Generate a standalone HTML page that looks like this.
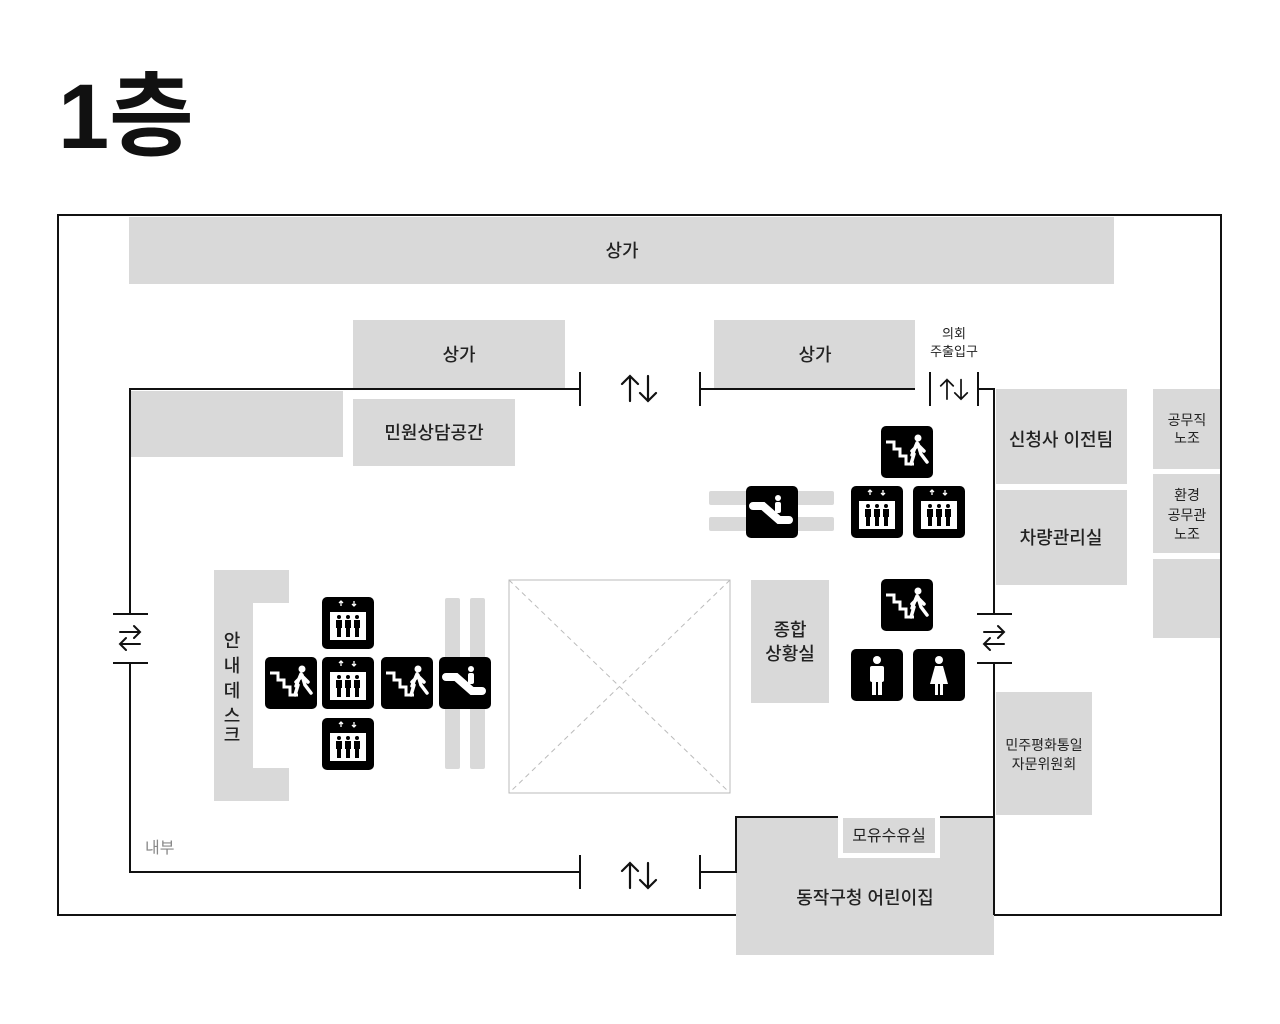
<!DOCTYPE html>
<html><head><meta charset="utf-8"><style>
html,body{margin:0;padding:0;background:#fff;width:1280px;height:1024px;overflow:hidden}
svg{display:block}
text{font-family:"Liberation Sans","Noto Sans CJK KR",sans-serif;fill:#222}
</style></head><body>
<svg width="1280" height="1024" viewBox="0 0 1280 1024">
<defs>
<g id="elev"><rect width="52" height="52" rx="5" fill="#000"/>
<rect x="8" y="15" width="36" height="28" fill="#fff"/>
<path d="M19 9v-5M17 6l2-2 2 2M32 4v5M30 7l2 2 2-2" stroke="#fff" stroke-width="1.3" fill="none"/>
<g fill="#000"><circle cx="17" cy="20" r="2"/><circle cx="26" cy="20" r="2"/><circle cx="35" cy="20" r="2"/>
<rect x="14" y="23" width="6" height="8"/><rect x="23" y="23" width="6" height="8"/><rect x="32" y="23" width="6" height="8"/>
<rect x="15" y="30" width="4" height="10"/><rect x="24" y="30" width="4" height="10"/><rect x="33" y="30" width="4" height="10"/></g></g>
<g id="stair"><rect width="52" height="52" rx="5" fill="#000"/>
<path d="M5 16h8v7h6v7h6v8h8" stroke="#fff" stroke-width="3" fill="none"/>
<circle cx="37" cy="12" r="3.5" fill="#fff"/>
<path d="M36 17l-5 12 M37 18l3 10 M33 28l-3 10 M40 28l6 8 M36 20l-5 5 M38 20l5 5" stroke="#fff" stroke-width="3.5" stroke-linecap="round" fill="none"/></g>
<g id="esc"><rect width="52" height="52" rx="5" fill="#000"/>
<path d="M7 20h10l16 14h10" stroke="#fff" stroke-width="8" stroke-linecap="round" fill="none"/>
<circle cx="32" cy="12" r="3" fill="#fff"/><rect x="29" y="16" width="6" height="11" rx="2" fill="#fff"/></g>
<g id="man"><rect width="52" height="52" rx="5" fill="#000"/>
<circle cx="26" cy="11" r="4" fill="#fff"/><rect x="19" y="17" width="14" height="16" rx="2" fill="#fff"/>
<rect x="21" y="30" width="4" height="16" fill="#fff"/><rect x="27" y="30" width="4" height="16" fill="#fff"/></g>
<g id="woman"><rect width="52" height="52" rx="5" fill="#000"/>
<circle cx="26" cy="11" r="4" fill="#fff"/><path d="M22 17h8l5 18h-18z" fill="#fff"/>
<rect x="22" y="34" width="3" height="12" fill="#fff"/><rect x="27" y="34" width="3" height="12" fill="#fff"/></g>
<g id="ud" stroke="#111" stroke-width="2.2" fill="none" stroke-linecap="round">
<path d="M-9 13V-12M-17 -4L-9 -12L-1 -4"/><path d="M9 -12V13M1 5L9 13L17 5"/></g>
<g id="lr" stroke="#111" stroke-width="2" fill="none" stroke-linecap="round">
<path d="M-10 -6H10M4 -12L10 -6L4 0"/><path d="M10 6H-10M-4 0L-10 6L-4 12"/></g>
</defs>

<text x="58" y="148" font-size="92" font-weight="bold" style="fill:#111">1층</text>

<rect x="58" y="215" width="1163" height="700" fill="none" stroke="#111" stroke-width="2"/>

<g fill="#d9d9d9">
<rect x="129" y="217" width="985" height="67"/>
<rect x="353" y="320" width="212" height="69"/>
<rect x="714" y="320" width="201" height="69"/>
<rect x="131" y="391" width="212" height="66"/>
<rect x="353" y="399" width="162" height="67"/>
<rect x="996" y="389" width="131" height="95"/>
<rect x="996" y="490" width="131" height="95"/>
<rect x="1153" y="389" width="67" height="80"/>
<rect x="1153" y="474" width="67" height="79"/>
<rect x="1153" y="559" width="67" height="79"/>
<rect x="751" y="580" width="78" height="123"/>
<rect x="996" y="692" width="96" height="123"/>
<rect x="214" y="570" width="75" height="231"/>
<rect x="445" y="598" width="15" height="171" rx="2"/>
<rect x="470" y="598" width="15" height="171" rx="2"/>
<rect x="709" y="491" width="125" height="14" rx="2"/>
<rect x="709" y="517" width="125" height="14" rx="2"/>
<rect x="736" y="817" width="258" height="138"/>
</g>
<rect x="253" y="603" width="36" height="165" fill="#fff"/>
<rect x="838" y="817" width="102" height="41" fill="#fff"/>
<rect x="843" y="818" width="92" height="35" fill="#d9d9d9"/>

<rect x="509" y="580" width="221" height="213" fill="#fff" stroke="#bbb" stroke-width="1"/>
<path d="M509 580L730 793M730 580L509 793" stroke="#bbb" stroke-width="1" stroke-dasharray="5,4"/>

<g stroke="#111" stroke-width="2" fill="none">
<path d="M580 389H130V614M113 614H148M113 663H148M130 663V872H580"/>
<path d="M580 372V406M700 372V406M700 389H915M930 372V406M978 372V406M978 389H994V614M977 614H1012M977 663H1012M994 663V915"/>
<path d="M580 855V889M700 855V889M700 872H736V817H838M940 817H994"/>
</g>

<use href="#ud" x="639" y="388"/>
<use href="#ud" x="639" y="875"/>
<use href="#ud" transform="translate(954 389) scale(0.78)"/>
<use href="#lr" x="130" y="638"/>
<use href="#lr" x="994" y="638"/>

<g font-size="18" text-anchor="middle" font-weight="500">
<text x="622" y="257">상가</text>
<text x="459" y="361">상가</text>
<text x="815" y="361">상가</text>
<text x="434" y="439">민원상담공간</text>
<text x="1061" y="446">신청사 이전팀</text>
<text x="1061" y="544">차량관리실</text>
<text x="790" y="636">종합</text>
<text x="790" y="660">상황실</text>
<text x="865" y="904">동작구청 어린이집</text>
<text x="232" y="647">안</text><text x="232" y="672">내</text><text x="232" y="697">데</text><text x="232" y="722">스</text><text x="232" y="741">크</text>
</g>
<g font-size="16" text-anchor="middle">
<text x="889" y="841">모유수유실</text>
</g>
<g font-size="14" text-anchor="middle">
<text x="1044" y="750">민주평화통일</text>
<text x="1044" y="769">자문위원회</text>
<text x="1187" y="425">공무직</text><text x="1187" y="443">노조</text>
<text x="1187" y="500">환경</text><text x="1187" y="520">공무관</text><text x="1187" y="539">노조</text>
<text x="954" y="338" font-size="13">의회</text><text x="954" y="356" font-size="13">주출입구</text>
</g>
<text x="145" y="853" font-size="16" style="fill:#888">내부</text>

<use href="#elev" x="322" y="597"/>
<use href="#stair" x="265" y="657"/>
<use href="#elev" x="322" y="657"/>
<use href="#stair" x="381" y="657"/>
<use href="#esc" x="439" y="657"/>
<use href="#elev" x="322" y="718"/>
<use href="#stair" x="881" y="426"/>
<use href="#esc" x="746" y="486"/>
<use href="#elev" x="851" y="486"/>
<use href="#elev" x="913" y="486"/>
<use href="#stair" x="881" y="579"/>
<use href="#man" x="851" y="649"/>
<use href="#woman" x="913" y="649"/>
</svg>
</body></html>
